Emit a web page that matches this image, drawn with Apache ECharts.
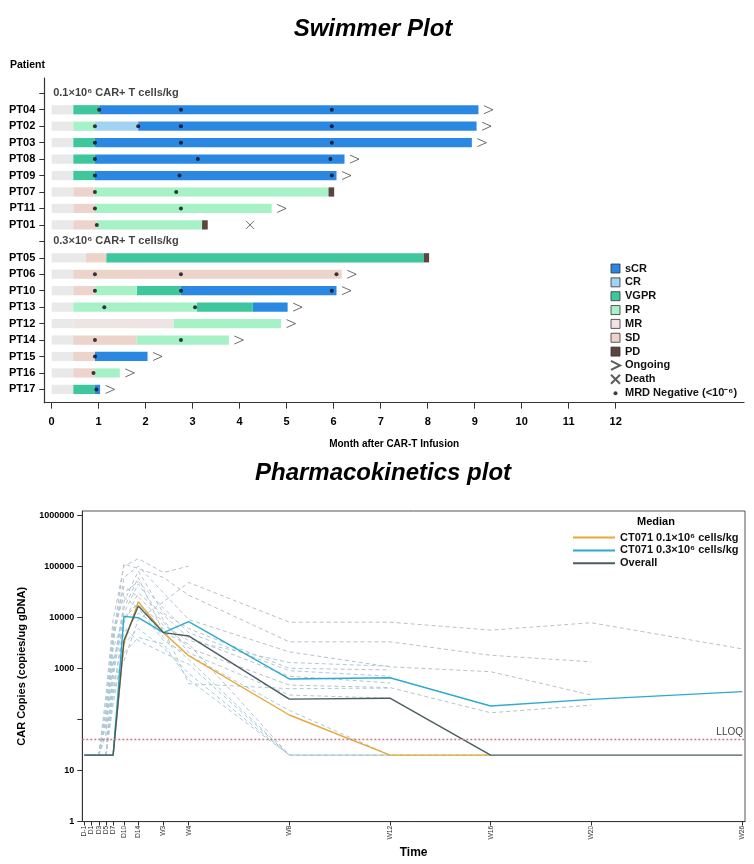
<!DOCTYPE html>
<html><head><meta charset="utf-8">
<script src="https://cdn.jsdelivr.net/npm/echarts@6/dist/echarts.min.js"></script>
<style>html,body{margin:0;padding:0;background:#fff}#c{width:754px;height:864px}</style>
</head><body><div id="c"></div>
<script>
// ---------------- Swimmer data ----------------
const groups = ['0.1×10⁶ CAR+ T cells/kg', '0.3×10⁶ CAR+ T cells/kg'];
const rows = [groups[0], 'PT04','PT02','PT03','PT08','PT09','PT07','PT11','PT01',
              groups[1], 'PT05','PT06','PT10','PT13','PT12','PT14','PT15','PT16','PT17'];
const monthTicks = [0,1,2,3,4,5,6,7,8,9,10,11,12];

// segments: [patient, start month, end month]
const preResponse = [['PT04',0,0.46],['PT02',0,0.46],['PT03',0,0.46],['PT08',0,0.46],['PT09',0,0.46],['PT07',0,0.46],['PT11',0,0.46],['PT01',0,0.46],
  ['PT05',0,0.73],['PT06',0,0.46],['PT10',0,0.46],['PT13',0,0.46],['PT12',0,0.46],['PT14',0,0.46],['PT15',0,0.46],['PT16',0,0.46],['PT17',0,0.46]];
const sCR = [['PT04',1.01,9.08],['PT02',1.84,9.04],['PT03',0.92,8.94],['PT08',0.92,6.23],['PT09',0.92,6.06],
  ['PT10',2.75,6.06],['PT13',4.28,5.02],['PT15',0.92,2.04],['PT17',0.92,1.03]];
const CR = [['PT02',0.92,1.84]];
const VGPR = [['PT04',0.46,1.01],['PT03',0.46,0.92],['PT08',0.46,0.92],['PT09',0.46,0.92],['PT05',1.16,7.92],
  ['PT10',1.81,2.75],['PT13',3.09,4.28],['PT17',0.46,0.92]];
const PR = [['PT02',0.46,0.92],['PT07',0.92,5.89],['PT11',0.92,4.68],['PT01',0.96,3.2],['PT10',0.92,1.81],
  ['PT13',0.46,3.09],['PT12',2.59,4.88],['PT14',1.81,3.77],['PT16',0.92,1.45]];
const MR = [['PT12',0.46,2.59]];
const SD = [['PT07',0.46,0.92],['PT11',0.46,0.92],['PT01',0.46,0.96],['PT05',0.73,1.16],['PT06',0.46,6.17],
  ['PT10',0.46,0.92],['PT14',0.46,1.81],['PT15',0.46,0.92],['PT16',0.46,0.92]];
const PD = [['PT07',5.89,6.01],['PT01',3.2,3.32],['PT05',7.92,8.03]];

const ongoing = ['PT04','PT02','PT03','PT08','PT09','PT11','PT06','PT10','PT13','PT12','PT14','PT15','PT16','PT17'];
const deaths = [['PT01',4.22]];
const mrdNegative = [['PT04',1.01],['PT04',2.75],['PT04',5.96],
  ['PT02',0.92],['PT02',1.84],['PT02',2.75],['PT02',5.96],
  ['PT03',0.92],['PT03',2.75],['PT03',5.96],
  ['PT08',0.92],['PT08',3.11],['PT08',5.93],
  ['PT09',0.92],['PT09',2.72],['PT09',5.96],
  ['PT07',0.92],['PT07',2.65],
  ['PT11',0.92],['PT11',2.75],
  ['PT01',0.96],
  ['PT06',0.92],['PT06',2.75],['PT06',6.06],
  ['PT10',0.92],['PT10',2.75],['PT10',5.96],
  ['PT13',1.12],['PT13',3.05],
  ['PT14',0.92],['PT14',2.75],
  ['PT15',0.92],['PT16',0.89],['PT17',0.95]];

// ---------------- PK data ----------------
const pkDays = [-1,1,3,5,7,10,14,21,28,56,84,112,140,182];
const pkLabels = ['D-1','D1','D3','D5','D7','D10','D14','W3','W4','W8','W12','W16','W20','W26'];
const lloq = 40;
const median01 = [20,20,20,20,20,3100,20000,5000,1770,122,20,20,null,null];
const median03 = [20,20,20,20,20,10400,9800,5000,8200,620,655,183,247,350];
const medianAll = [20,20,20,20,20,3500,16600,5000,4300,250,260,20,20,20];
const subj01 = [20,20,20,300,9000,100000,140000,75000,100000,null,null,null,null,null];
const subj02 = [20,20,20,100,4000,110000,90000,60000,27000,3300,3300,1800,1340,null];
const subj03 = [20,20,20,20,600,1400,9000,20000,48000,8000,8000,5600,7800,2400];
const subj04 = [20,20,20,50,3000,60000,100000,30000,9000,2100,1070,860,300,null];
const subj05 = [20,20,20,20,800,20000,80000,12000,6000,1000,930,null,null,null];
const subj06 = [20,20,20,150,5000,40000,25000,8000,2500,470,420,135,190,null];
const subj07 = [20,20,20,20,300,8000,30000,11000,4000,700,520,null,null,null];
const subj08 = [20,20,20,20,1200,15000,60000,5000,3000,20,20,20,null,null];
const subj09 = [20,20,20,80,2500,9000,20000,4000,1500,20,20,null,null,null];
const subj10 = [20,20,20,20,400,5000,12000,6000,500,400,410,null,null,null];
const subj11 = [20,20,20,200,6000,25000,15000,3500,1800,150,20,20,null,null];
const subj12 = [20,20,20,20,200,3000,6000,2500,800,20,20,null,null,null];
const subj13 = [20,20,20,20,1000,12000,45000,9000,2000,300,260,null,null,null];
const subj14 = [20,20,20,50,1500,6000,3500,2000,1200,20,null,null,null,null];
const subj15 = [20,20,20,20,700,10000,18000,7000,3500,1300,1100,null,null,null];
const subj16 = [20,20,20,20,300,2000,4000,3000,600,20,20,null,null,null];
const subj17 = [20,20,20,100,4000,30000,50000,15000,5000,900,700,null,null,null];
const subjectsLow = [subj01,subj02,subj03,subj04,subj05,subj06,subj07,subj08];
const subjectsHigh = [subj09,subj10,subj11,subj12,subj13,subj14,subj15,subj16,subj17];

// ---------------- build ----------------
const FONT = "'Liberation Sans', Arial, Helvetica, sans-serif";
const rowIdx = n => rows.indexOf(n);
const allSegs = [preResponse, sCR, CR, VGPR, PR, MR, SD, PD];
const patientEnd = p => Math.max(...allSegs.flat().filter(s => s[0] === p).map(s => s[2]));

function renderSeg(params, api) {
  const r = api.value(2);
  const p0 = api.coord([api.value(0), r]);
  const p1 = api.coord([api.value(1), r]);
  const h = api.size([0, 1])[1] * 0.56;
  return { type: 'rect', shape: { x: p0[0], y: p0[1] - h / 2, width: p1[0] - p0[0], height: h }, style: api.style() };
}
function segSeries(name, segs, color) {
  return { type: 'custom', name, xAxisIndex: 0, yAxisIndex: 0, renderItem: renderSeg,
    encode: { x: [0, 1], y: 2 }, itemStyle: { color }, z: 2, silent: true,
    data: segs.map(s => [s[1], s[2], rowIdx(s[0])]) };
}
const statusColors = { Pre: '#e9e9e9', sCR: '#2b88e2', CR: '#a3d3f3', VGPR: '#3fc69d', PR: '#a7f1c6', MR: '#eee4e4', SD: '#ecd4ca', PD: '#5a453f' };
const mrdName = 'MRD Negative (<10⁻⁶)';
const dotIcon = 'path://M0,0M10,10M2.8,5A2.2,2.2,0,1,0,7.2,5A2.2,2.2,0,1,0,2.8,5Z';

const series = [
  segSeries('Pre', preResponse, statusColors.Pre),
  segSeries('sCR', sCR, statusColors.sCR),
  segSeries('CR', CR, statusColors.CR),
  segSeries('VGPR', VGPR, statusColors.VGPR),
  segSeries('PR', PR, statusColors.PR),
  segSeries('MR', MR, statusColors.MR),
  segSeries('SD', SD, statusColors.SD),
  segSeries('PD', PD, statusColors.PD),
  { type: 'scatter', name: 'Ongoing', xAxisIndex: 0, yAxisIndex: 0, z: 5, silent: true,
    symbol: 'path://M0,0L10,5L0,10', symbolSize: [9, 8], symbolOffset: [10, 0],
    itemStyle: { color: 'rgba(0,0,0,0)', borderColor: '#333', borderWidth: 0.9 },
    data: ongoing.map(p => [patientEnd(p), rowIdx(p)]) },
  { type: 'scatter', name: 'Death', xAxisIndex: 0, yAxisIndex: 0, z: 5, silent: true,
    symbol: 'path://M0,0L10,10M10,0L0,10', symbolSize: 8,
    itemStyle: { color: 'rgba(0,0,0,0)', borderColor: '#333', borderWidth: 0.9 },
    data: deaths.map(d => [d[1], rowIdx(d[0])]) },
  { type: 'scatter', name: mrdName, xAxisIndex: 0, yAxisIndex: 0, z: 6, silent: true,
    symbol: 'circle', symbolSize: 4, itemStyle: { color: '#0a0a14' },
    data: mrdNegative.map(d => [d[1], rowIdx(d[0])]) },
  { type: 'scatter', name: 'groupLabels', xAxisIndex: 0, yAxisIndex: 0, z: 6, silent: true,
    symbolSize: 1, itemStyle: { color: 'rgba(0,0,0,0)' },
    label: { show: true, position: 'right', distance: 1, formatter: p => p.data[2],
      fontFamily: FONT, fontWeight: 'bold', fontSize: 11, color: '#111' },
    data: groups.map(g => [0, rowIdx(g), g]) }
];

const pkPairs = arr => pkDays.map((d, i) => [d, arr[i]]).filter(p => p[1] != null);
subjectsLow.forEach((s, i) => series.push({ type: 'line', name: 'lowdose' + i, xAxisIndex: 1, yAxisIndex: 1, z: 1, silent: true,
  symbol: 'none', lineStyle: { type: [4, 3], width: 1, color: '#b9c1cc' }, data: pkPairs(s) }));
subjectsHigh.forEach((s, i) => series.push({ type: 'line', name: 'highdose' + i, xAxisIndex: 1, yAxisIndex: 1, z: 1, silent: true,
  symbol: 'none', lineStyle: { type: [4, 3], width: 1, color: '#a9ccd8' }, data: pkPairs(s) }));
const m01 = 'CT071 0.1×10⁶ cells/kg', m03 = 'CT071 0.3×10⁶ cells/kg';
series.push({ type: 'line', name: m01, xAxisIndex: 1, yAxisIndex: 1, z: 3, symbol: 'none', silent: true,
  lineStyle: { width: 1.4, color: '#e8a838' }, itemStyle: { color: '#e8a838' }, data: pkPairs(median01) });
series.push({ type: 'line', name: m03, xAxisIndex: 1, yAxisIndex: 1, z: 3, symbol: 'none', silent: true,
  lineStyle: { width: 1.4, color: '#2eaacb' }, itemStyle: { color: '#2eaacb' }, data: pkPairs(median03) });
series.push({ type: 'line', name: 'Overall', xAxisIndex: 1, yAxisIndex: 1, z: 4, symbol: 'none', silent: true,
  lineStyle: { width: 1.4, color: '#4a5c5e' }, itemStyle: { color: '#4a5c5e' }, data: pkPairs(medianAll),
  markLine: { silent: true, symbol: 'none', data: [{ yAxis: lloq }],
    lineStyle: { color: '#d07585', type: [2, 2], width: 1.3 },
    label: { formatter: 'LLOQ', position: 'insideEndTop', distance: 2, color: '#444', fontFamily: FONT, fontSize: 10 } } });

const option = {
  animation: false,
  backgroundColor: '#fff',
  textStyle: { fontFamily: FONT },
  title: [
    { text: 'Swimmer Plot', left: 373, top: 17, textAlign: 'center', padding: 0,
      textStyle: { fontFamily: FONT, fontSize: 24, fontWeight: 'bold', fontStyle: 'italic', color: '#000' } },
    { text: 'Patient', left: 10, top: 60, padding: 0,
      textStyle: { fontFamily: FONT, fontSize: 10.5, fontWeight: 'bold', color: '#000' } },
    { text: 'Pharmacokinetics plot', left: 383, top: 461, textAlign: 'center', padding: 0,
      textStyle: { fontFamily: FONT, fontSize: 24, fontWeight: 'bold', fontStyle: 'italic', color: '#000' } },
    { text: 'Median', left: 656, top: 516, textAlign: 'center', padding: 0,
      textStyle: { fontFamily: FONT, fontSize: 11, fontWeight: 'bold', color: '#000' } }
  ],
  legend: [
    { orient: 'vertical', left: 610, top: 263, itemWidth: 9, itemHeight: 9, itemGap: 2.85, padding: 0,
      selectedMode: false,
      textStyle: { fontFamily: FONT, fontWeight: 'bold', fontSize: 11, color: '#111', lineHeight: 9 },
      data: ['sCR','CR','VGPR','PR','MR','SD','PD'].map(n => ({ name: n, icon: 'rect', itemStyle: { borderColor: '#333', borderWidth: 0.8 } }))
        .concat([{ name: 'Ongoing' }, { name: 'Death' }, { name: mrdName, icon: dotIcon }]) },
    { orient: 'vertical', left: 572, top: 532, itemWidth: 42, itemHeight: 8, itemGap: 1.9, padding: 0,
      selectedMode: false, itemStyle: { opacity: 0 },
      textStyle: { fontFamily: FONT, fontWeight: 'bold', fontSize: 11, color: '#111', lineHeight: 8 },
      data: [m01, m03, 'Overall'] }
  ],
  grid: [
    { left: 44.3, top: 78, width: 699.7, height: 324.7, outerBoundsMode: 'none' },
    { left: 82.3, top: 511, width: 662.7, height: 310.6, show: true, borderColor: '#555', borderWidth: 1, outerBoundsMode: 'none' }
  ],
  xAxis: [
    { type: 'value', gridIndex: 0, min: -0.157, max: 14.73,
      axisLine: { show: true, onZero: false, lineStyle: { color: '#333', width: 1.2 } },
      axisTick: { show: true, length: 6, customValues: monthTicks, lineStyle: { color: '#333' } },
      axisLabel: { customValues: monthTicks, margin: 14, fontFamily: FONT, fontWeight: 'bold', fontSize: 11, color: '#000' },
      splitLine: { show: false },
      name: 'Month after CAR-T Infusion', nameLocation: 'middle', nameGap: 37,
      nameTextStyle: { fontFamily: FONT, fontWeight: 'bold', fontSize: 10, color: '#000' } },
    { type: 'value', gridIndex: 1, min: -1.58, max: 182.75,
      axisLine: { show: true, onZero: false, lineStyle: { color: '#333', width: 1 } },
      axisTick: { show: true, length: 4, customValues: pkDays, lineStyle: { color: '#333' } },
      axisLabel: { customValues: pkDays, rotate: 90, margin: 4, fontFamily: FONT, fontSize: 6.8, lineHeight: 6.8, color: '#333',
        showMinLabel: true, showMaxLabel: true, hideOverlap: false,
        formatter: v => pkLabels[pkDays.indexOf(v)] },
      splitLine: { show: false },
      name: 'Time', nameLocation: 'middle', nameGap: 25,
      nameTextStyle: { fontFamily: FONT, fontWeight: 'bold', fontSize: 12, color: '#000' } }
  ],
  yAxis: [
    { type: 'value', gridIndex: 0, inverse: true, min: -0.93, max: 18.81,
      axisLine: { show: true, onZero: false, lineStyle: { color: '#333', width: 1.2 } },
      axisTick: { show: true, length: 5, customValues: rows.map((r, i) => i), lineStyle: { color: '#333' } },
      axisLabel: { customValues: rows.map((r, i) => i), margin: 9, fontFamily: FONT, fontWeight: 'bold', fontSize: 11, color: '#000',
        formatter: v => groups.includes(rows[v]) ? '' : rows[v] },
      splitLine: { show: false } },
    { type: 'log', gridIndex: 1, min: 1, max: 1200000,
      axisLine: { show: true, onZero: false, lineStyle: { color: '#333', width: 1 } },
      axisTick: { show: true, length: 5, customValues: [1,10,100,1000,10000,100000,1000000], lineStyle: { color: '#333' } },
      axisLabel: { customValues: [1,10,1000,10000,100000,1000000], margin: 8, fontFamily: FONT, fontWeight: 'bold', fontSize: 9, color: '#000',
        formatter: v => String(Math.round(v)) },
      splitLine: { show: false },
      name: 'CAR Copies (copies/ug gDNA)', nameLocation: 'middle', nameGap: 55,
      nameTextStyle: { fontFamily: FONT, fontWeight: 'bold', fontSize: 11, color: '#000' } }
  ],
  series
};
echarts.init(document.getElementById('c'), null, { renderer: 'canvas' }).setOption(option);
</script></body></html>
